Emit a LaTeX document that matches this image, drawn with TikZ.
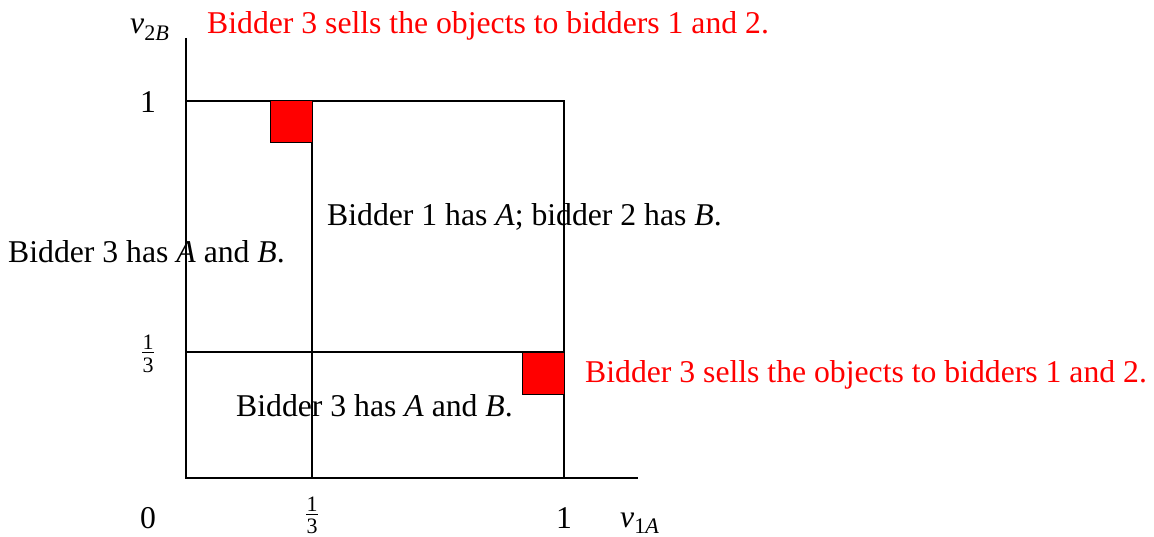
\documentclass[tikz,border=0pt]{standalone}
\usepackage{fontspec}
\setmainfont{Liberation Serif}
\begin{document}
\begin{tikzpicture}[x=1pt,y=-1pt,
  lbl/.style={inner sep=0pt,font=\fontsize{31.7}{38}\selectfont},
  redlbl/.style={lbl,text=red},
  fracdigit/.style={inner sep=0pt,font=\fontsize{22}{24}\selectfont},
  ln/.style={line width=1.1pt},
  bar/.style={line width=0.9pt},
  cell/.style={draw=black,line width=1pt,fill=red}]
\useasboundingbox (0,0) rectangle (1154,537);
% axes
\coordinate (O) at (186,478);
\coordinate (ytop) at (186,38);
\coordinate (xend) at (638,478);
\draw[ln] (ytop) -- (O) -- (xend);
% unit square and thirds
\coordinate (TL) at (186,101);
\coordinate (TR) at (564,101);
\coordinate (BR) at (564,478);
\draw[ln] (TL) -- (TR) -- (BR);
\coordinate (vt) at (312,101);
\coordinate (vb) at (312,478);
\draw[ln] (vt) -- (vb);
\coordinate (hl) at (186,352);
\coordinate (hr) at (564,352);
\draw[ln] (hl) -- (hr);
% red cells
\draw[cell] (270,101) rectangle (312,143);
\draw[cell] (522,352) rectangle (564,394);
% axis labels
\node[lbl,anchor=base west] (v2B) at (130,34) {\textit{v}\textsubscript{2\textit{B}}};
\node[lbl,anchor=base west] (v1A) at (620,527) {\textit{v}\textsubscript{1\textit{A}}};
\node[lbl,anchor=base] (ty1) at (148,113) {1};
\node[lbl,anchor=base] (t0) at (148,528) {0};
\node[lbl,anchor=base] (tx1) at (564,528) {1};
% fractions
\node[fracdigit,anchor=base] (fyn) at (148,349) {1};
\node[fracdigit,anchor=base] (fyd) at (148,372) {3};
\draw[bar] (142,352.5) -- (154,352.5);
\node[fracdigit,anchor=base] (fxn) at (312,511) {1};
\node[fracdigit,anchor=base] (fxd) at (312,533) {3};
\draw[bar] (306,514.5) -- (318,514.5);
% region texts
\node[redlbl,anchor=base west] (top) at (207,34) {Bidder 3 sells the objects to bidders 1 and 2.};
\node[redlbl,anchor=base west] (right) at (585,382) {Bidder 3 sells the objects to bidders 1 and 2.};
\node[lbl,anchor=base west] (mid) at (327,226) {Bidder 1 has \textit{A}; bidder 2 has \textit{B}.};
\node[lbl,anchor=base west] (left) at (8,263) {Bidder 3 has \textit{A} and \textit{B}.};
\node[lbl,anchor=base west] (bot) at (236,416) {Bidder 3 has \textit{A} and \textit{B}.};
\end{tikzpicture}
\end{document}
